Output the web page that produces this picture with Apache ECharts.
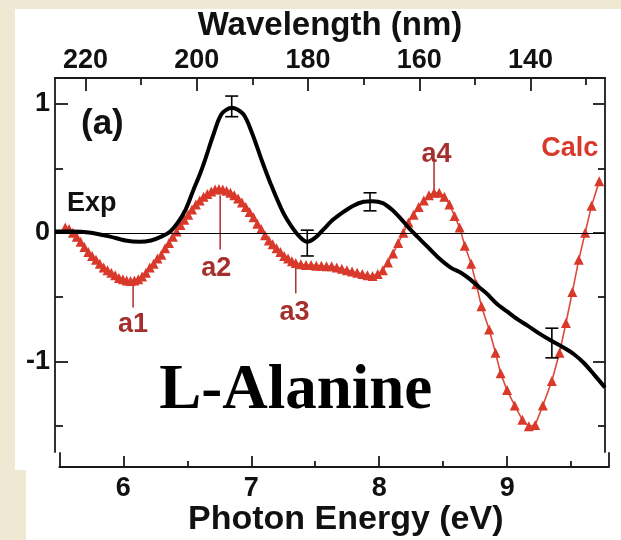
<!DOCTYPE html>
<html>
<head>
<meta charset="utf-8">
<script src="https://cdn.jsdelivr.net/npm/echarts@6/dist/echarts.min.js"></script>
<style>
html,body{margin:0;padding:0;background:#efe9d3;}
#chart{width:621px;height:540px;}
</style>
</head>
<body>
<div id="chart"></div>
<script>
// ---- data ----
const expE = [5.47,5.60,5.75,5.90,6.02,6.13,6.22,6.30,6.37,6.43,6.49,6.55,6.60,6.64,6.71,6.77,6.85,6.94,7.01,7.085,7.15,7.25,7.33,7.39,7.44,7.50,7.57,7.64,7.72,7.80,7.88,7.95,8.03,8.10,8.17,8.24,8.30,8.38,8.46,8.56,8.64,8.71,8.78,8.84,8.92,9.00,9.08,9.16,9.25,9.35,9.44,9.52,9.60,9.68,9.765];
const expV = [0.01,0.01,0.00,-0.03,-0.06,-0.07,-0.06,-0.03,0.01,0.08,0.18,0.33,0.45,0.56,0.77,0.92,0.97,0.92,0.77,0.56,0.39,0.16,0.03,-0.04,-0.07,-0.04,0.03,0.10,0.16,0.21,0.24,0.245,0.23,0.18,0.11,0.03,-0.03,-0.11,-0.19,-0.27,-0.31,-0.36,-0.42,-0.47,-0.55,-0.61,-0.67,-0.72,-0.78,-0.84,-0.89,-0.94,-1.01,-1.10,-1.20];

const calcE = [5.55,5.58,5.61,5.64,5.67,5.70,5.73,5.76,5.79,5.82,5.85,5.88,5.91,5.94,5.97,6.00,6.03,6.06,6.09,6.12,6.15,6.18,6.21,6.24,6.27,6.30,6.33,6.36,6.39,6.42,6.45,6.48,6.51,6.54,6.57,6.60,6.63,6.66,6.69,6.72,6.75,6.78,6.81,6.84,6.87,6.90,6.93,6.96,6.99,7.02,7.05,7.08,7.11,7.14,7.17,7.20,7.23,7.26,7.29,7.32,7.35,7.39,7.43,7.47,7.51,7.55,7.59,7.63,7.67,7.71,7.75,7.79,7.83,7.87,7.91,7.95,7.99,8.03,8.07,8.11,8.15,8.19,8.23,8.27,8.31,8.35,8.39,8.43,8.47,8.51,8.55,8.59,8.63,8.67,8.72,8.76,8.80,8.86,8.91,8.95,9.00,9.06,9.12,9.17,9.22,9.28,9.35,9.41,9.46,9.51,9.56,9.61,9.66,9.72];
const calcV = [0.04,0.03,0.00,-0.03,-0.07,-0.11,-0.15,-0.18,-0.21,-0.24,-0.27,-0.29,-0.31,-0.33,-0.35,-0.36,-0.37,-0.375,-0.37,-0.36,-0.34,-0.31,-0.27,-0.24,-0.20,-0.17,-0.12,-0.08,-0.03,0.01,0.06,0.10,0.14,0.18,0.22,0.25,0.28,0.30,0.32,0.335,0.34,0.335,0.325,0.31,0.29,0.265,0.235,0.20,0.16,0.12,0.07,0.03,-0.02,-0.06,-0.09,-0.12,-0.15,-0.18,-0.20,-0.22,-0.235,-0.245,-0.25,-0.25,-0.255,-0.255,-0.26,-0.26,-0.27,-0.28,-0.29,-0.30,-0.31,-0.32,-0.33,-0.335,-0.32,-0.29,-0.23,-0.16,-0.08,0.00,0.08,0.14,0.20,0.25,0.29,0.31,0.31,0.28,0.22,0.13,0.04,-0.10,-0.24,-0.40,-0.57,-0.75,-0.93,-1.09,-1.22,-1.34,-1.45,-1.50,-1.49,-1.34,-1.15,-0.93,-0.70,-0.46,-0.21,0.00,0.21,0.40];

// error bars: energy, low, high
const errE = [6.85,7.44,7.93,9.35];
const errLow = [0.90,-0.18,0.17,-0.97];
const errHigh = [1.06,0.02,0.31,-0.74];

// peak markers (energy, line top, line bottom)
const peakNames = ['a1','a2','a3','a4'];
const peakE = [6.08,6.76,7.35,8.43];
const peakTop = [-0.40,0.29,-0.27,0.56];
const peakBottom = [-0.58,-0.13,-0.47,0.32];

// tick labels
const energyTicks = [6,7,8,9];
const energyMinor = [6.5,7.5,8.5,9.5];
const wlTicks = [220,200,180,160,140];
const wlMinor = [210,190,170,150,130];
const yTicks = [-1,0,1];
const yMinor = [-1.5,-0.5,0.5];

// ---- chart ----
const chart = echarts.init(document.getElementById('chart'), null, {renderer:'canvas'});
const AX = '#1a1a1a';
const FONT = 'Liberation Sans, Arial, sans-serif';
const RED = '#d8392b';
const DARKRED = '#a52f2c';

function tickAxis(extra){ return Object.assign({type:'value', splitLine:{show:false}}, extra); }

const option = {
  backgroundColor: 'transparent',
  animation: false,
  graphic: [
    {type:'rect', shape:{x:15, y:9, width:606, height:461}, style:{fill:'#ffffff'}, z:-10, silent:true},
    {type:'rect', shape:{x:26, y:465, width:595, height:75}, style:{fill:'#ffffff'}, z:-10, silent:true}
  ],
  grid: [
    {left:55, right:16, top:78, bottom:88, containLabel:false},
    {left:59.3, right:12.7, top:453, bottom:73, containLabel:false}
  ],
  xAxis: [
    tickAxis({gridIndex:0, min:5.47, max:9.765, show:false}),
    tickAxis({gridIndex:0, position:'top', min:126.6, max:225.5, inverse:true,
      axisLine:{show:true, onZero:false, lineStyle:{color:AX, width:1.8}},
      axisTick:{show:true, inside:true, length:13, customValues:wlTicks, lineStyle:{color:AX, width:1.8}},
      axisLabel:{show:true, customValues:wlTicks, margin:4, color:'#111', fontFamily:FONT, fontWeight:'bold', fontSize:27},
      name:'Wavelength (nm)', nameLocation:'middle', nameGap:31,
      nameTextStyle:{color:'#111', fontFamily:FONT, fontWeight:'bold', fontSize:33}}),
    tickAxis({gridIndex:0, position:'top', min:126.6, max:225.5, inverse:true,
      axisLine:{show:false, onZero:false},
      axisTick:{show:true, inside:true, length:7, customValues:wlMinor, lineStyle:{color:AX, width:1.8}},
      axisLabel:{show:false}}),
    tickAxis({gridIndex:1, position:'bottom', min:5.5, max:9.79,
      axisLine:{show:true, onZero:false, lineStyle:{color:AX, width:1.8}},
      axisTick:{show:true, inside:true, length:11, customValues:energyTicks, lineStyle:{color:AX, width:1.8}},
      axisLabel:{show:true, customValues:energyTicks, margin:8, color:'#111', fontFamily:FONT, fontWeight:'bold', fontSize:27},
      name:'Photon Energy (eV)', nameLocation:'middle', nameGap:33,
      nameTextStyle:{color:'#111', fontFamily:FONT, fontWeight:'bold', fontSize:34, padding:[0,0,0,24]}}),
    tickAxis({gridIndex:1, position:'bottom', min:5.5, max:9.79,
      axisLine:{show:false, onZero:false},
      axisTick:{show:true, inside:true, length:6, customValues:energyMinor, lineStyle:{color:AX, width:1.8}},
      axisLabel:{show:false}})
  ],
  yAxis: [
    tickAxis({gridIndex:0, position:'left', min:-1.7, max:1.2,
      axisLine:{show:true, onZero:false, lineStyle:{color:AX, width:1.8}},
      axisTick:{show:true, inside:true, length:13, customValues:yTicks, lineStyle:{color:AX, width:1.8}},
      axisLabel:{show:true, customValues:yTicks, margin:5, color:'#111', fontFamily:FONT, fontWeight:'bold', fontSize:27}}),
    tickAxis({gridIndex:0, position:'left', min:-1.7, max:1.2,
      axisLine:{show:false, onZero:false},
      axisTick:{show:true, inside:true, length:8, customValues:yMinor, lineStyle:{color:AX, width:1.8}},
      axisLabel:{show:false}}),
    tickAxis({gridIndex:0, position:'right', min:-1.7, max:1.2,
      axisLine:{show:true, onZero:false, lineStyle:{color:AX, width:1.8}},
      axisTick:{show:true, inside:true, length:12, customValues:yTicks, lineStyle:{color:AX, width:1.8}},
      axisLabel:{show:false}}),
    tickAxis({gridIndex:0, position:'right', min:-1.7, max:1.2,
      axisLine:{show:false, onZero:false},
      axisTick:{show:true, inside:true, length:7, customValues:yMinor, lineStyle:{color:AX, width:1.8}},
      axisLabel:{show:false}}),
    tickAxis({gridIndex:1, position:'left', min:0, max:1,
      axisLine:{show:true, onZero:false, lineStyle:{color:AX, width:1.8}},
      axisTick:{show:false}, axisLabel:{show:false}}),
    tickAxis({gridIndex:1, position:'right', min:0, max:1,
      axisLine:{show:true, onZero:false, lineStyle:{color:AX, width:1.8}},
      axisTick:{show:false}, axisLabel:{show:false}})
  ],
  series: [
    {
      name:'Calc', type:'line', xAxisIndex:0, yAxisIndex:0, z:3,
      data: calcE.map((e,i)=>[e, calcV[i]]),
      symbol:'triangle', symbolSize:10, showSymbol:true,
      itemStyle:{color:RED, opacity:1},
      lineStyle:{color:'#dd4a3c', width:1.6}
    },
    {
      name:'Exp', type:'line', xAxisIndex:0, yAxisIndex:0, z:4,
      data: expE.map((e,i)=>[e, expV[i]]),
      smooth:0.3, showSymbol:false, symbol:'none',
      lineStyle:{color:'#000', width:4},
      markLine:{silent:true, symbol:'none', label:{show:false},
        lineStyle:{color:'#000', width:1.2, type:'solid'}, data:[{yAxis:0}]}
    },
    {
      name:'err', type:'custom', xAxisIndex:0, yAxisIndex:0, z:5,
      data: errE.map((e,i)=>[e, errLow[i], errHigh[i]]),
      renderItem: function(params, api){
        const lo = api.coord([api.value(0), api.value(1)]);
        const hi = api.coord([api.value(0), api.value(2)]);
        const w = 6.5;
        const st = {stroke:'#000', lineWidth:1.6};
        return {type:'group', children:[
          {type:'line', shape:{x1:lo[0], y1:lo[1], x2:hi[0], y2:hi[1]}, style:st},
          {type:'line', shape:{x1:lo[0]-w, y1:lo[1], x2:lo[0]+w, y2:lo[1]}, style:st},
          {type:'line', shape:{x1:hi[0]-w, y1:hi[1], x2:hi[0]+w, y2:hi[1]}, style:st}
        ]};
      }
    },
    {
      name:'peaks', type:'custom', xAxisIndex:0, yAxisIndex:0, z:2,
      data: peakE.map((e,i)=>[e, peakTop[i], peakBottom[i]]),
      renderItem: function(params, api){
        const a = api.coord([api.value(0), api.value(1)]);
        const b = api.coord([api.value(0), api.value(2)]);
        return {type:'line', shape:{x1:a[0], y1:a[1], x2:b[0], y2:b[1]}, style:{stroke:'#b03a3a', lineWidth:1.6}};
      }
    },
    {
      name:'labels', type:'scatter', xAxisIndex:0, yAxisIndex:0, z:6,
      symbolSize:0, silent:true,
      itemStyle:{opacity:1},
      label:{show:true, position:'inside', fontFamily:FONT, fontWeight:'bold', fontSize:27, color:DARKRED, opacity:1},
      data: [
        {value:[6.08,-0.71], label:{formatter:peakNames[0]}},
        {value:[6.73,-0.275], label:{formatter:peakNames[1]}},
        {value:[7.34,-0.62], label:{formatter:peakNames[2]}},
        {value:[8.45,0.61], label:{formatter:peakNames[3]}},
        {value:[9.49,0.655], label:{formatter:'Calc', color:RED}},
        {value:[5.757,0.23], label:{formatter:'Exp', color:'#111'}},
        {value:[5.84,0.84], label:{formatter:'(a)', color:'#111', fontSize:35}},
        {value:[7.35,-1.232], label:{formatter:'L-Alanine', color:'#000', fontSize:63, fontFamily:'Liberation Serif, Times New Roman, serif'}}
      ]
    }
  ]
};
chart.setOption(option);
</script>
</body>
</html>
